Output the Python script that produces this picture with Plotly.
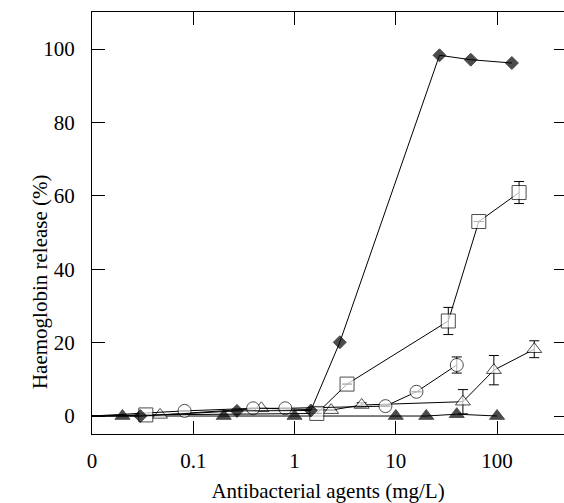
import plotly.graph_objects as go

# Concentrations (mg/L); 0 = untreated control, drawn at the left edge of the log axis
diamond_x = [0, 0.03, 0.27, 1.45, 2.8, 27, 55, 140]
diamond_y = [0, 0.0, 1.4, 1.5, 20.1, 98.3, 97.1, 96.2]

square_x = [0, 0.034, 1.66, 3.3, 33, 66, 165]
square_y = [0, 0.3, 0.7, 8.7, 25.9, 53.0, 60.9]
square_err = [None, None, None, None, 3.7, None, 3.0]

circle_x = [0, 0.082, 0.39, 0.81, 7.9, 16, 40]
circle_y = [0, 1.4, 2.1, 2.1, 2.7, 6.6, 13.9]
circle_err = [None, None, None, None, None, None, 2.2]

otri_x = [0, 0.047, 0.47, 2.3, 4.6, 46, 93, 233]
otri_y = [0, 0.3, 2.1, 1.6, 3.0, 3.9, 12.5, 18.2]
otri_err = [None, None, None, None, 0.6, 3.3, 4.0, 2.3]

ftri_x = [0, 0.02, 0.2, 1, 10, 20, 40, 100]
ftri_y = [0, 0.0, 0.0, 0.0, 0.0, 0.0, 0.5, 0.0]

x_tickvals = [0.01, 0.1, 1, 10, 100]
x_ticktext = ["0", "0.1", "1", "10", "100"]
y_tickvals = [0, 20, 40, 60, 80, 100]

X_MIN_LOG = -2.0
X_MAX_LOG = 2.661
Y_RANGE = [-4.9, 110.1]

FONT = "'Liberation Serif', 'Times New Roman', Times, serif"
INK = "#000000"


def xpos(vals):
    zero = 10 ** X_MIN_LOG
    return [zero if v == 0 else v for v in vals]


def sizes(vals, s):
    return [0 if v == 0 else s for v in vals]


def series(xv, yv, symbol, fill, size, err=None):
    tr = go.Scatter(
        x=xpos(xv), y=yv, mode="lines+markers",
        line=dict(color=INK, width=1),
        marker=dict(symbol=symbol, size=sizes(xv, size), color=fill,
                    line=dict(color=INK, width=1)),
        showlegend=False, cliponaxis=False,
    )
    if err is not None:
        tr.error_y = dict(type="data", array=err, symmetric=True,
                          color=INK, thickness=1, width=5)
    return tr


fig = go.Figure()
fig.add_trace(series(ftri_x, ftri_y, "triangle-up", "black", 13))
fig.add_trace(series(otri_x, otri_y, "triangle-up", "white", 13, otri_err))
fig.add_trace(series(circle_x, circle_y, "circle", "white", 13, circle_err))
fig.add_trace(series(square_x, square_y, "square", "white", 14, square_err))
fig.add_trace(series(diamond_x, diamond_y, "diamond", "black", 10))

# invisible trace for the right-hand tick axis
fig.add_trace(go.Scatter(x=[0.1], y=[0], yaxis="y2", mode="markers",
                         marker=dict(size=0, opacity=0), showlegend=False,
                         hoverinfo="skip"))

fig.add_annotation(
    text="Haemoglobin release (%)", textangle=-90,
    xref="paper", yref="paper", x=0, y=0.36,
    xanchor="center", yanchor="middle", xshift=-52, showarrow=False,
    font=dict(family=FONT, size=21, color="black"),
)

fig.update_layout(
    width=564, height=503,
    margin=dict(l=92, r=0, t=12, b=69),
    paper_bgcolor="white", plot_bgcolor="white",
    font=dict(family=FONT, size=21, color="black"),
    xaxis=dict(
        type="log", range=[X_MIN_LOG, X_MAX_LOG],
        tickvals=x_tickvals, ticktext=x_ticktext,
        ticks="inside", ticklen=13, tickcolor=INK, tickwidth=1,
        showline=True, linecolor=INK, linewidth=1, mirror="ticks",
        showgrid=False, zeroline=False,
        ticklabelstandoff=8,
        tickfont=dict(family=FONT, size=21),
        title=dict(text="Antibacterial agents (mg/L)", font=dict(family=FONT, size=21), standoff=12),
    ),
    yaxis=dict(
        range=Y_RANGE, tickvals=y_tickvals,
        ticks="inside", ticklen=13, tickcolor=INK, tickwidth=1,
        showline=True, linecolor=INK, linewidth=1, mirror=False,
        showgrid=False, zeroline=False,
        ticklabelstandoff=12,
        tickfont=dict(family=FONT, size=21),
    ),
    yaxis2=dict(
        overlaying="y", side="right", range=Y_RANGE, tickvals=y_tickvals,
        ticks="inside", ticklen=10, tickcolor=INK, tickwidth=1,
        showticklabels=False, showline=False, showgrid=False, zeroline=False,
    ),
)

fig.write_html("out.html")
